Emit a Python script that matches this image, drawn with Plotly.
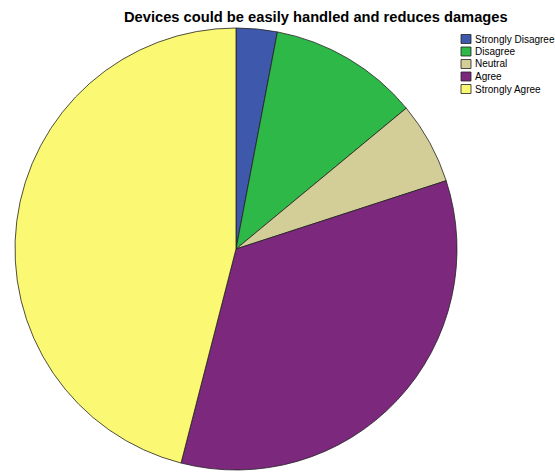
import plotly.graph_objects as go

labels = ["Strongly Disagree", "Disagree", "Neutral", "Agree", "Strongly Agree"]
values = [3, 11, 6, 34, 46]
colors = ["#3E58AC", "#2EB848", "#D3CE97", "#7C287D", "#FBF873"]
title = "Devices could be easily handled and reduces damages"

W, H = 555, 472

def px(x):
    return x / W

def py(y):
    return 1 - y / H

fig = go.Figure()
fig.add_trace(go.Pie(
    labels=labels, values=values, sort=False, direction="clockwise", rotation=0,
    marker=dict(colors=colors, line=dict(color="#222222", width=0.8)),
    textinfo="none", hoverinfo="label+percent", showlegend=False,
    domain=dict(x=[px(15), px(457)], y=[py(470), py(28)]),
))

shapes = []
annotations = []
row0, step = 39, 12.5
for i, (lab, col) in enumerate(zip(labels, colors)):
    yc = row0 + i * step
    shapes.append(dict(type="rect", xref="paper", yref="paper",
                       x0=px(461), x1=px(471), y0=py(yc + 4.5), y1=py(yc - 4.5),
                       fillcolor=col, line=dict(color="#222222", width=0.8)))
    annotations.append(dict(text=lab, xref="paper", yref="paper", x=px(472.5), y=py(yc),
                            xanchor="left", yanchor="middle", showarrow=False,
                            font=dict(family="Liberation Sans, Arial", size=10, color="#000000")))

annotations.append(dict(text="<b>" + title + "</b>", xref="paper", yref="paper",
                        x=px(315.5), y=py(17), xanchor="center", yanchor="middle",
                        showarrow=False,
                        font=dict(family="Liberation Sans, Arial", size=14.7, color="#000000")))

fig.update_layout(width=W, height=H, margin=dict(l=0, r=0, t=0, b=0),
                  paper_bgcolor="white", plot_bgcolor="white",
                  shapes=shapes, annotations=annotations)
fig.write_html("out.html")
